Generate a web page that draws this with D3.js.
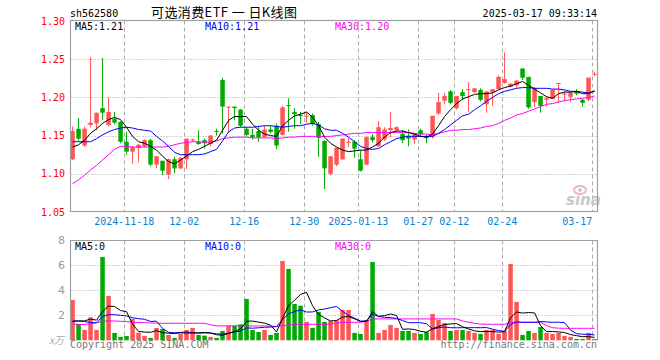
<!DOCTYPE html>
<html lang="zh">
<head>
<meta charset="UTF-8">
<title>可选消费ETF 日K线图</title>
<script src="https://d3js.org/d3.v7.min.js"></script>
<style>
  body { margin: 0; background: #fff; }
  svg text { font-family: "DejaVu Sans Mono", monospace; font-size: 10px; }
</style>
</head>
<body>
<svg width="660" height="360"></svg>
<script>
// trading days shown (88)
var dates = [
  '2024-11-05','2024-11-06','2024-11-07','2024-11-08','2024-11-11','2024-11-12','2024-11-13','2024-11-14','2024-11-15',
  '2024-11-18','2024-11-19','2024-11-20','2024-11-21','2024-11-22','2024-11-25','2024-11-26','2024-11-27','2024-11-28','2024-11-29',
  '2024-12-02','2024-12-03','2024-12-04','2024-12-05','2024-12-06','2024-12-09','2024-12-10','2024-12-11','2024-12-12','2024-12-13',
  '2024-12-16','2024-12-17','2024-12-18','2024-12-19','2024-12-20','2024-12-23','2024-12-24','2024-12-25','2024-12-26','2024-12-27',
  '2024-12-30','2024-12-31','2025-01-02','2025-01-03','2025-01-06','2025-01-07','2025-01-08','2025-01-09','2025-01-10',
  '2025-01-13','2025-01-14','2025-01-15','2025-01-16','2025-01-17','2025-01-20','2025-01-21','2025-01-22','2025-01-23','2025-01-24',
  '2025-01-27','2025-02-05','2025-02-06','2025-02-07','2025-02-10','2025-02-11',
  '2025-02-12','2025-02-13','2025-02-14','2025-02-17','2025-02-18','2025-02-19','2025-02-20','2025-02-21',
  '2025-02-24','2025-02-25','2025-02-26','2025-02-27','2025-02-28',
  '2025-03-03','2025-03-04','2025-03-05','2025-03-06','2025-03-07','2025-03-10','2025-03-11','2025-03-12','2025-03-13','2025-03-14',
  '2025-03-17'
];

var open = [1.119,1.159,1.137,1.164,1.166,1.186,1.164,1.172,1.168,1.142, 1.129,1.134,1.136,1.144,1.112,1.117,1.099,1.119,1.107,1.119,
  1.144,1.142,1.144,1.139,1.156,1.223,1.187,1.188,1.184,1.159, 1.151,1.156,1.148,1.158,1.163,1.151,1.190,1.181,1.177,1.175,
  1.177,1.165,1.143,1.100,1.112,1.119,1.141,1.142,1.119,1.112, 1.148,1.136,1.145,1.157,1.157,1.152,1.150,1.145,1.157,1.148,
  1.148,1.179,1.196,1.208,1.186,1.207,1.210,1.207,1.210,1.191, 1.207,1.211,1.219,1.214,1.216,1.238,1.227,1.194,1.202,1.197,
  1.198,1.218,1.204,1.201,1.208,1.197,1.197,1.230];
var high = [1.162,1.173,1.162,1.253,1.180,1.252,1.200,1.181,1.169,1.155, 1.136,1.139,1.145,1.146,1.123,1.117,1.120,1.122,1.122,1.146,
  1.146,1.157,1.146,1.151,1.159,1.226,1.188,1.188,1.185,1.161, 1.159,1.163,1.163,1.163,1.166,1.189,1.199,1.186,1.181,1.181,
  1.179,1.168,1.144,1.123,1.134,1.147,1.147,1.144,1.131,1.149, 1.152,1.169,1.161,1.181,1.162,1.157,1.158,1.153,1.159,1.151,
  1.176,1.206,1.206,1.210,1.202,1.211,1.220,1.212,1.212,1.208, 1.211,1.229,1.259,1.219,1.223,1.238,1.227,1.214,1.202,1.201,
  1.211,1.219,1.209,1.208,1.211,1.198,1.226,1.234];
var low = [1.118,1.143,1.135,1.161,1.157,1.170,1.162,1.165,1.140,1.125, 1.113,1.115,1.134,1.110,1.107,1.098,1.093,1.101,1.106,1.106,
  1.142,1.138,1.133,1.136,1.150,1.153,1.154,1.170,1.161,1.149, 1.145,1.142,1.148,1.153,1.132,1.150,1.155,1.159,1.165,1.167,
  1.163,1.122,1.080,1.098,1.110,1.118,1.135,1.121,1.103,1.111, 1.141,1.135,1.143,1.148,1.155,1.140,1.136,1.139,1.149,1.140,
  1.146,1.177,1.191,1.191,1.184,1.197,1.181,1.206,1.195,1.180, 1.189,1.211,1.218,1.213,1.213,1.223,1.185,1.187,1.180,1.188,
  1.198,1.193,1.195,1.194,1.203,1.188,1.195,1.228];
var close = [1.156,1.146,1.159,1.167,1.180,1.180,1.181,1.167,1.142,1.129, 1.135,1.138,1.144,1.112,1.123,1.104,1.119,1.107,1.121,1.146,
  1.145,1.139,1.140,1.150,1.155,1.188,1.188,1.186,1.163,1.151, 1.148,1.148,1.158,1.155,1.137,1.187,1.189,1.178,1.176,1.176,
  1.165,1.147,1.107,1.123,1.134,1.146,1.142,1.133,1.104,1.148, 1.144,1.161,1.158,1.160,1.161,1.144,1.146,1.152,1.152,1.147,
  1.176,1.194,1.202,1.193,1.202,1.202,1.211,1.212,1.197,1.208, 1.211,1.227,1.224,1.218,1.222,1.226,1.187,1.212,1.189,1.199,
  1.210,1.219,1.205,1.206,1.205,1.193,1.226,1.231];

var ma5 = [1.135,1.138,1.144,1.153,1.159,1.166,1.171,1.174,1.171,1.161, 1.149,1.142,1.140,1.136,1.131,1.123,1.116,1.113,1.118,1.123,
  1.129,1.132,1.136,1.140,1.144,1.157,1.170,1.175,1.175,1.175, 1.165,1.157,1.152,1.150,1.149,1.163,1.170,1.176,1.178,1.181,
  1.174,1.163,1.148,1.140,1.135,1.131,1.129,1.130,1.131,1.131, 1.135,1.140,1.148,1.154,1.156,1.156,1.154,1.152,1.149,1.148,
  1.152,1.163,1.175,1.184,1.192,1.198,1.201,1.204,1.205,1.205, 1.206,1.210,1.213,1.215,1.218,1.221,1.216,1.211,1.206,1.201,
  1.199,1.205,1.207,1.207,1.208,1.205,1.205,1.209];
var ma10 = [1.142,1.142,1.142,1.142,1.146,1.151,1.155,1.158,1.160,1.161, 1.160,1.158,1.157,1.156,1.149,1.143,1.136,1.128,1.125,1.125,
  1.125,1.125,1.126,1.129,1.132,1.143,1.155,1.160,1.161,1.161, 1.161,1.162,1.163,1.163,1.162,1.161,1.162,1.163,1.163,1.165,
  1.166,1.164,1.159,1.157,1.157,1.153,1.148,1.142,1.136,1.133, 1.132,1.133,1.138,1.142,1.146,1.148,1.149,1.149,1.149,1.149,
  1.149,1.153,1.158,1.164,1.170,1.176,1.178,1.184,1.189,1.195, 1.200,1.205,1.208,1.210,1.212,1.213,1.213,1.212,1.212,1.212,
  1.211,1.211,1.210,1.208,1.208,1.207,1.206,1.208];
var ma30 = [1.087,1.092,1.098,1.105,1.111,1.118,1.125,1.132,1.136,1.136, 1.135,1.135,1.135,1.135,1.135,1.135,1.136,1.138,1.140,1.141,
  1.142,1.142,1.141,1.142,1.143,1.146,1.147,1.148,1.148,1.148, 1.147,1.147,1.147,1.147,1.146,1.147,1.148,1.148,1.149,1.149,
  1.149,1.149,1.149,1.149,1.150,1.151,1.152,1.153,1.153,1.154, 1.154,1.154,1.154,1.154,1.154,1.154,1.154,1.153,1.152,1.152,
  1.151,1.153,1.155,1.157,1.157,1.158,1.158,1.159,1.160,1.162, 1.163,1.166,1.170,1.173,1.177,1.179,1.182,1.185,1.188,1.191,
  1.192,1.194,1.196,1.197,1.198,1.199,1.200,1.202];

// volume, unit 万
var volume = [3.23,1.31,0.83,1.84,0.83,6.67,3.55,0.59,0.27,0.35, 1.71,0.61,0.35,0.19,0.99,0.91,0.43,0.19,0.53,0.83,
  0.99,0.43,0.37,0.27,0.19,0.75,1.15,1.15,1.28,3.31, 0.83,0.67,0.83,0.43,0.59,6.35,5.71,2.91,2.77,1.47,
  0.99,2.27,1.47,1.55,1.60,2.43,2.43,0.59,0.51,1.63, 6.27,0.59,0.83,1.23,0.99,0.75,0.75,0.59,0.51,0.67,
  2.11,1.63,1.39,0.75,0.83,0.83,0.75,0.59,0.51,0.83, 0.83,0.53,0.75,6.11,3.07,0.43,0.75,0.59,1.07,0.59,
  0.51,0.59,0.35,0.27,0.11,0.11,0.59,0.11];
var vma5 = [1.50,1.55,1.55,1.70,1.61,2.30,2.74,2.70,2.38,2.29, 1.29,0.71,0.66,0.64,0.77,0.61,0.57,0.54,0.61,0.58,
  0.59,0.59,0.63,0.58,0.45,0.40,0.55,0.70,0.90,1.53, 1.54,1.45,1.38,1.21,0.67,1.77,2.78,3.20,3.67,3.84,
  2.77,2.08,1.79,1.55,1.58,1.86,1.90,1.72,1.51,1.52, 2.29,1.92,1.97,2.11,1.98,0.88,0.91,0.86,0.72,0.65,
  0.93,1.10,1.26,1.31,1.34,1.09,0.91,0.75,0.70,0.70, 0.70,0.66,0.69,1.81,2.26,2.18,2.22,2.19,1.18,0.69,
  0.70,0.67,0.62,0.46,0.37,0.29,0.29,0.24];
var vma10 = [1.55,1.55,1.50,1.42,1.40,1.90,2.05,2.05,2.00,1.95, 1.80,1.73,1.68,1.51,1.53,0.95,0.64,0.60,0.63,0.67,
  0.60,0.58,0.59,0.59,0.51,0.50,0.57,0.67,0.74,0.99, 0.97,1.00,1.04,1.06,1.10,1.66,2.12,2.29,2.44,2.26,
  2.27,2.43,2.50,2.61,2.71,2.32,1.99,1.76,1.53,1.55, 2.08,1.91,1.84,1.81,1.75,1.58,1.41,1.41,1.41,1.32,
  0.90,1.01,1.06,1.01,1.00,1.01,1.01,1.01,1.01,1.02, 0.89,0.78,0.72,1.26,1.48,1.44,1.44,1.44,1.50,1.47,
  1.44,1.45,1.41,0.82,0.53,0.49,0.48,0.43];
var vma30 = [1.31,1.27,1.27,1.31,1.41,1.52,1.55,1.55,1.52,1.49, 1.45,1.42,1.41,1.39,1.37,1.36,1.36,1.36,1.36,1.36,
  1.36,1.36,1.36,1.24,1.15,1.15,1.16,1.16,1.16,1.15, 1.15,1.15,1.15,1.14,1.10,1.17,1.22,1.27,1.28,1.28,
  1.28,1.28,1.28,1.30,1.38,1.44,1.44,1.44,1.44,1.52, 1.70,1.71,1.71,1.71,1.71,1.71,1.71,1.71,1.71,1.71,
  1.71,1.71,1.71,1.71,1.71,1.55,1.45,1.36,1.30,1.28, 1.28,1.28,1.28,1.44,1.44,1.44,1.44,1.44,1.44,1.17,
  1.01,0.97,0.96,0.96,0.96,0.96,0.96,0.96];

var labelDates = ['2024-11-18','2024-12-02','2024-12-16','2024-12-30','2025-01-13','2025-01-27','2025-02-12','2025-02-24','2025-03-17'];
var labelTexts = ['2024-11-18','12-02','12-16','12-30','2025-01-13','01-27','02-12','02-24','03-17'];
var priceTicks = [1.05, 1.10, 1.15, 1.20, 1.25, 1.30];
var volTicks = [2, 4, 6, 8];

var svg = d3.select('svg');
var L = 70.5, R = 597.5, pTop = 20.5, pBot = 211.5, vTop = 240.5, vBot = 340.5;
var red = '#ff5555', green = '#00aa00';

var x = d3.scaleBand().domain(dates).range([70.3, 596.8]).paddingInner(0.25).paddingOuter(0).align(0);
var bw = x.bandwidth();
var y = d3.scaleLinear().domain([1.05, 1.30]).range([211.9, 21.2]);
var yv = d3.scaleLinear().domain([0, 8]).range([340.3, 240.3]);

// ---- grid
var grid = svg.append('g').attr('stroke', '#aaa').attr('stroke-width', 1);
grid.selectAll('.hp').data(priceTicks.slice(1, -1)).enter().append('line')
    .attr('x1', L).attr('x2', R)
    .attr('y1', function(d) { return Math.round(y(d)) + 0.5; })
    .attr('y2', function(d) { return Math.round(y(d)) + 0.5; })
    .attr('stroke-dasharray', '1,2');
grid.selectAll('.hv').data(volTicks.slice(0, -1)).enter().append('line')
    .attr('x1', L).attr('x2', R)
    .attr('y1', function(d) { return Math.round(yv(d)) + 0.5; })
    .attr('y2', function(d) { return Math.round(yv(d)) + 0.5; })
    .attr('stroke-dasharray', '1,2');
[[pTop, pBot], [vTop, vBot]].forEach(function(r) {
    grid.selectAll(null).data(labelDates).enter().append('line')
        .attr('x1', function(d) { return Math.floor(x(d)) + 0.5; })
        .attr('x2', function(d) { return Math.floor(x(d)) + 0.5; })
        .attr('y1', r[0]).attr('y2', r[1])
        .attr('stroke-dasharray', '4,3');
});

// ---- sina watermark
var wm = svg.append('g');
wm.append('ellipse').attr('cx', 580).attr('cy', 190).attr('rx', 6).attr('ry', 4)
    .attr('fill', 'none').attr('stroke', '#f5b5b5').attr('stroke-width', 2);
wm.append('circle').attr('cx', 580).attr('cy', 190).attr('r', 1.8).attr('fill', '#bbb');
wm.append('text').attr('x', 566).attr('y', 205).text('sina')
    .style('font-family', 'DejaVu Sans').style('font-size', '15px')
    .style('font-weight', 'bold').style('font-style', 'italic').attr('fill', '#c8c8c8');

// ---- candles
var isUp = function(i) { return close[i] >= open[i]; };
var cg = svg.append('g');
cg.selectAll('.wick').data(dates).enter().append('line')
    .attr('x1', function(d) { return x(d) + bw / 2; })
    .attr('x2', function(d) { return x(d) + bw / 2; })
    .attr('y1', function(d, i) { return y(high[i]); })
    .attr('y2', function(d, i) { return y(low[i]); })
    .attr('stroke', function(d, i) { return isUp(i) ? red : green; })
    .attr('stroke-width', 1);
cg.selectAll('.body').data(dates).enter().append('rect')
    .attr('x', function(d) { return x(d); })
    .attr('width', bw)
    .attr('y', function(d, i) { return y(Math.max(open[i], close[i])); })
    .attr('height', function(d, i) { return Math.max(1, Math.abs(y(open[i]) - y(close[i]))); })
    .attr('fill', function(d, i) { return isUp(i) ? red : green; });

var mline = function(sc) {
    return d3.line().x(function(d, i) { return x(dates[i]) + bw / 2; }).y(function(d) { return sc(d); });
};
[[ma30, '#ff00ff'], [ma10, '#0000ff'], [ma5, '#000']].forEach(function(m) {
    svg.append('path').datum(m[0]).attr('d', mline(y)).attr('fill', 'none')
        .attr('stroke', m[1]).attr('stroke-width', 1);
});

// ---- volume bars
svg.append('g').selectAll('rect').data(volume).enter().append('rect')
    .attr('x', function(d, i) { return x(dates[i]); })
    .attr('width', bw)
    .attr('y', function(d) { return yv(d); })
    .attr('height', function(d) { return yv(0) - yv(d); })
    .attr('fill', function(d, i) { return isUp(i) ? red : green; });
[[vma30, '#ff00ff'], [vma10, '#0000ff'], [vma5, '#000']].forEach(function(m) {
    svg.append('path').datum(m[0]).attr('d', mline(yv)).attr('fill', 'none')
        .attr('stroke', m[1]).attr('stroke-width', 1);
});

// ---- frames
svg.append('rect').attr('x', L).attr('y', pTop).attr('width', R - L).attr('height', pBot - pTop)
    .attr('fill', 'none').attr('stroke', '#a0a0a0').attr('stroke-width', 1.2);
svg.append('path').attr('d', 'M' + L + ',' + vBot + 'V' + vTop + 'H' + R + 'V' + vBot)
    .attr('fill', 'none').attr('stroke', '#a0a0a0').attr('stroke-width', 1.2);

// ---- axis labels
svg.selectAll('.pl').data(priceTicks).enter().append('text')
    .attr('x', 65).attr('y', function(d) { return y(d); }).attr('dy', '0.36em')
    .attr('text-anchor', 'end').attr('fill', '#f00')
    .text(function(d) { return d.toFixed(2); });
svg.selectAll('.vl').data(volTicks).enter().append('text')
    .attr('x', 65).attr('y', function(d) { return yv(d); }).attr('dy', '0.36em')
    .attr('text-anchor', 'end').attr('fill', '#999')
    .style('font-family', 'DejaVu Sans').style('font-size', '11px')
    .text(function(d) { return d; });
svg.append('text').attr('x', 64).attr('y', 344).attr('text-anchor', 'end').attr('fill', '#aaa')
    .style('font-family', '"Noto Sans CJK SC"').style('font-size', '10px').style('font-style', 'italic')
    .text('x万');
svg.selectAll('.xl').data(labelDates).enter().append('text')
    .attr('x', function(d) { return x(d); })
    .attr('y', 225)
    .attr('text-anchor', function(d, i) { return i === labelDates.length - 1 ? 'end' : 'middle'; })
    .attr('fill', '#0a7fd0')
    .text(function(d, i) { return labelTexts[i]; });

// ---- legends and titles
var legend = function(yy, vals) {
    svg.append('text').attr('x', 75).attr('y', yy).attr('fill', '#000').text('MA5:' + vals[0]);
    svg.append('text').attr('x', 205).attr('y', yy).attr('fill', '#0000ff').text('MA10:' + vals[1]);
    svg.append('text').attr('x', 335).attr('y', yy).attr('fill', '#ff00ff').text('MA30:' + vals[2]);
};
legend(29.5, [ma5[87].toFixed(2), ma10[87].toFixed(2), ma30[87].toFixed(2)]);
legend(250, ['0', '0', '0']);

svg.append('text').attr('x', 70).attr('y', 16.5).attr('fill', '#000').text('sh562580');
svg.append('text').attr('x', 151).attr('y', 16.5).attr('fill', '#000')
    .attr('textLength', 146).attr('lengthAdjust', 'spacing')
    .style('font-family', '"Noto Sans CJK SC"').style('font-size', '13px')
    .style('white-space', 'pre')
    .text('可选消费ETF 一 日K线图');
svg.append('text').attr('x', 597).attr('y', 16.5).attr('text-anchor', 'end').attr('fill', '#000')
    .text('2025-03-17 09:33:14');
svg.append('text').attr('x', 70).attr('y', 348).attr('fill', '#777').text('Copyright 2025 SINA.COM');
svg.append('text').attr('x', 597).attr('y', 348).attr('text-anchor', 'end').attr('fill', '#777')
    .text('http://finance.sina.com.cn');
</script>
</body>
</html>
